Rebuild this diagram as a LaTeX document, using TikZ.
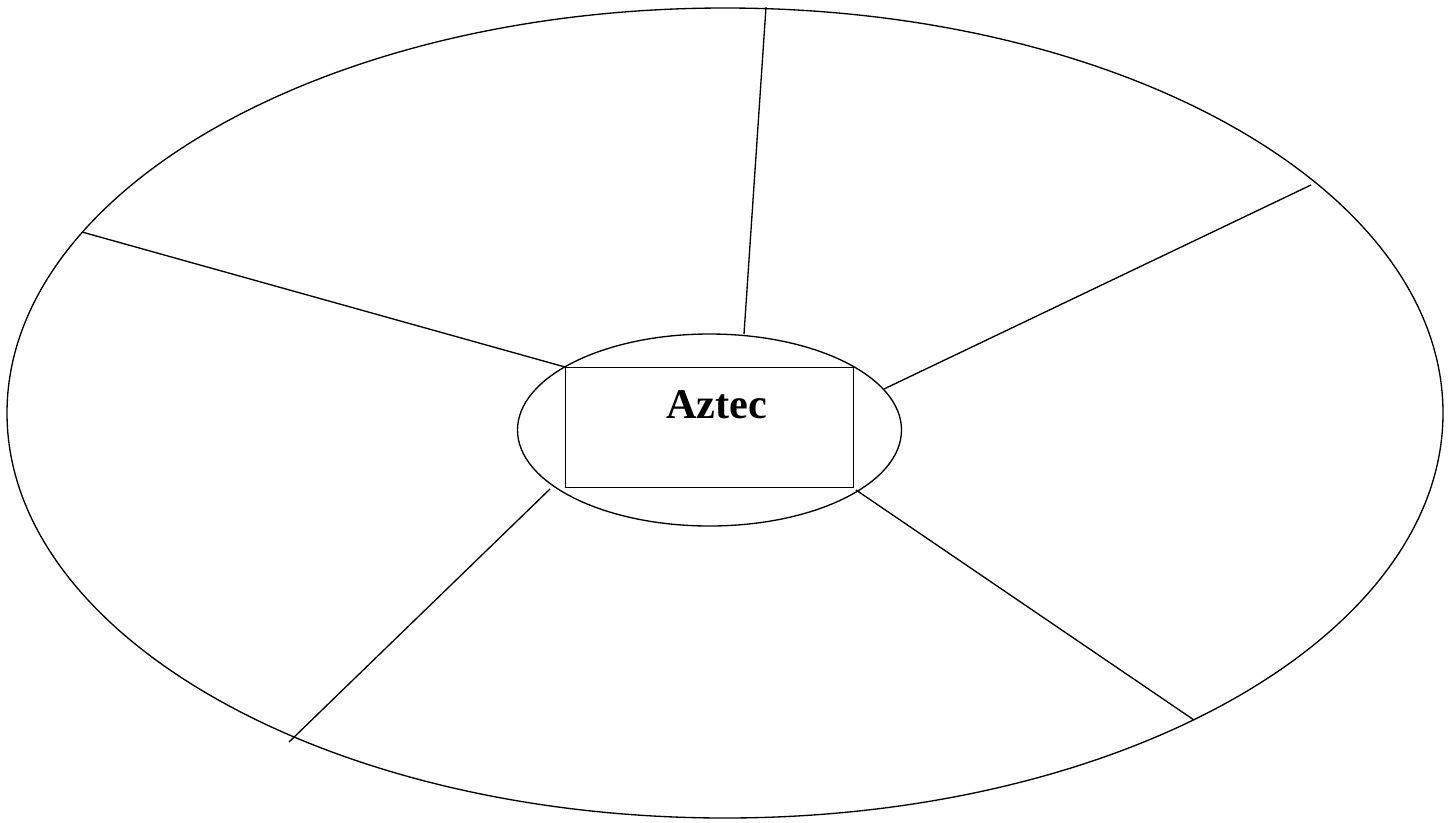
\documentclass[tikz,border=0pt]{standalone}
\usepackage{fontspec}
\setmainfont{Liberation Serif}
\usetikzlibrary{shapes.geometric}
\begin{document}
\begin{tikzpicture}[x=0.75pt,y=-0.75pt,
  outline/.style={draw=black,line width=1pt,inner sep=0pt,outer sep=0pt},
  spoke/.style={draw=black,line width=1pt}]
\useasboundingbox (0,0) rectangle (1452,822);
% outer ring and central hub
\node[outline,ellipse,minimum width=1077pt,minimum height=607.5pt] (outer) at (725,413) {};
\node[outline,ellipse,minimum width=288pt,minimum height=144pt] (hub) at (709.5,430) {};
\node[outline,line width=1.3pt,rectangle,minimum width=216pt,minimum height=90pt] (box) at (709.5,427.5) {};
\node[anchor=base,inner sep=0pt] (title) at (716.5,418) {\fontsize{31.7pt}{38pt}\selectfont\bfseries Aztec};
% spoke end points
\coordinate (t1) at (766,7);    \coordinate (h1) at (744,334);
\coordinate (t2) at (82,232);   \coordinate (h2) at (565,367);
\coordinate (t3) at (1311,185); \coordinate (h3) at (884,389);
\coordinate (t4) at (289,742);  \coordinate (h4) at (550,489);
\coordinate (t5) at (1194,720); \coordinate (h5) at (856,490);
\foreach \i in {1,...,5} \draw[spoke] (h\i) -- (t\i);
\end{tikzpicture}
\end{document}
